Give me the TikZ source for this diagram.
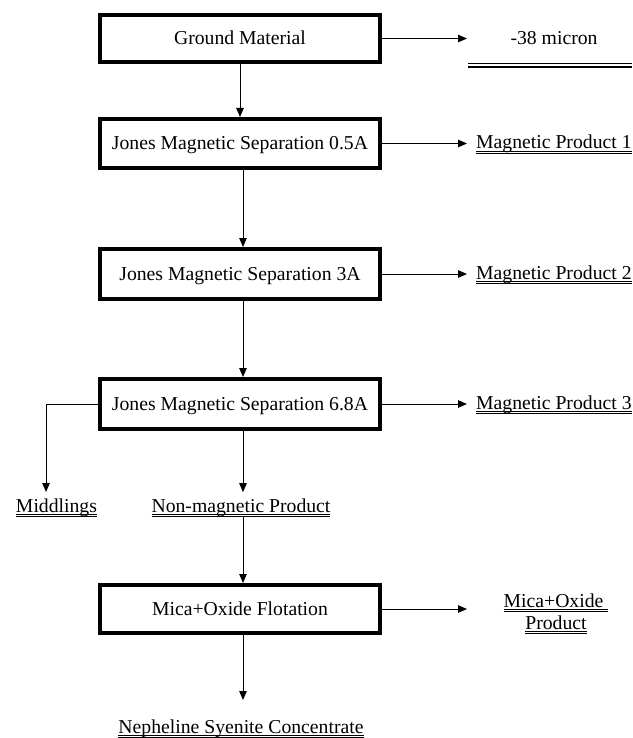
\documentclass[tikz,border=0pt]{standalone}
\usepackage{fontspec}
\setmainfont{Liberation Serif}
\usetikzlibrary{arrows.meta}
\newcommand\dul[1]{\setbox0\hbox{#1}\dp0=0pt\vtop{\copy0\kern1.6pt\hrule height 1.1pt\kern1.1pt\hrule height 1.1pt}}
\begin{document}
\begin{tikzpicture}[x=1pt,y=-1pt,
  font=\fontsize{19.7}{22}\selectfont,
  stepbox/.style={draw,line width=4pt,minimum width=280pt,minimum height=49pt,inner sep=0pt,text height=1.2em,text depth=0pt},
  lbl/.style={inner sep=0pt},
  arr/.style={line width=1pt,-{Triangle[length=9pt,width=7.5pt]}},
  ln/.style={line width=1pt}]
\useasboundingbox (0,0) rectangle (632,738);
% boxes
\node[stepbox,minimum height=47pt] (g)  at (240,38.5) {Ground Material};
\node[stepbox] (j1) at (240,143.5) {Jones Magnetic Separation 0.5A};
\node[stepbox,minimum height=50pt] (j2) at (240,274) {Jones Magnetic Separation 3A};
\node[stepbox,minimum height=50pt] (j3) at (240,404) {Jones Magnetic Separation 6.8A};
\node[stepbox,minimum height=48pt] (mf) at (240,609) {Mica+Oxide Flotation};
% labels
\node[lbl,anchor=base] (mic) at (554,44.5) {-38 micron};
\node[lbl,anchor=base west] (m1) at (476,149) {\dul{Magnetic Product 1}};
\node[lbl,anchor=base west] (m2) at (476,279) {\dul{Magnetic Product 2}};
\node[lbl,anchor=base west] (m3) at (476,409) {\dul{Magnetic Product 3}};
\node[lbl,anchor=base] (mid) at (56.5,512) {\dul{Middlings}};
\node[lbl,anchor=base] (nm) at (241,512) {\dul{Non-magnetic Product}};
\node[lbl,align=center,anchor=north] (mo) at (556,593.5) {\dul{Mica+Oxide\ }\\\dul{Product}};
\node[lbl,anchor=base] (ns) at (241,733) {\dul{Nepheline Syenite Concentrate}};
% free ends
\coordinate (gt) at (467,38.5);
\coordinate (mt) at (467,609);
\coordinate (midtip) at (46,492);
\coordinate (nstip) at (243,700);
% double rule under -38 micron
\draw[line width=1.2pt] (468,63.5) -- (632,63.5) (468,67) -- (632,67);
% connectors
\draw[arr] (g) -- (j1);
\draw[arr] ([xshift=3pt]j1.south) -- ([xshift=3pt]j2.north);
\draw[arr] ([xshift=3pt]j2.south) -- ([xshift=3pt]j3.north);
\draw[arr,shorten >=6pt] ([xshift=3pt]j3.south) -- ([xshift=3pt]j3.south |- nm.north);
\draw[arr] ([xshift=2pt]nm.south) -- ([xshift=3pt]mf.north);
\draw[arr] ([xshift=3pt]mf.south) -- (nstip);
\draw[arr] (g.east) -- (gt);
\draw[arr,shorten >=9pt] (j1.east) -- (j1.east -| m1.west);
\draw[arr,shorten >=9pt] (j2.east) -- (j2.east -| m2.west);
\draw[arr,shorten >=9pt] (j3.east) -- (j3.east -| m3.west);
\draw[arr] (j3.west) -| (midtip);
\draw[arr] (mf.east) -- (mt);
\end{tikzpicture}
\end{document}
